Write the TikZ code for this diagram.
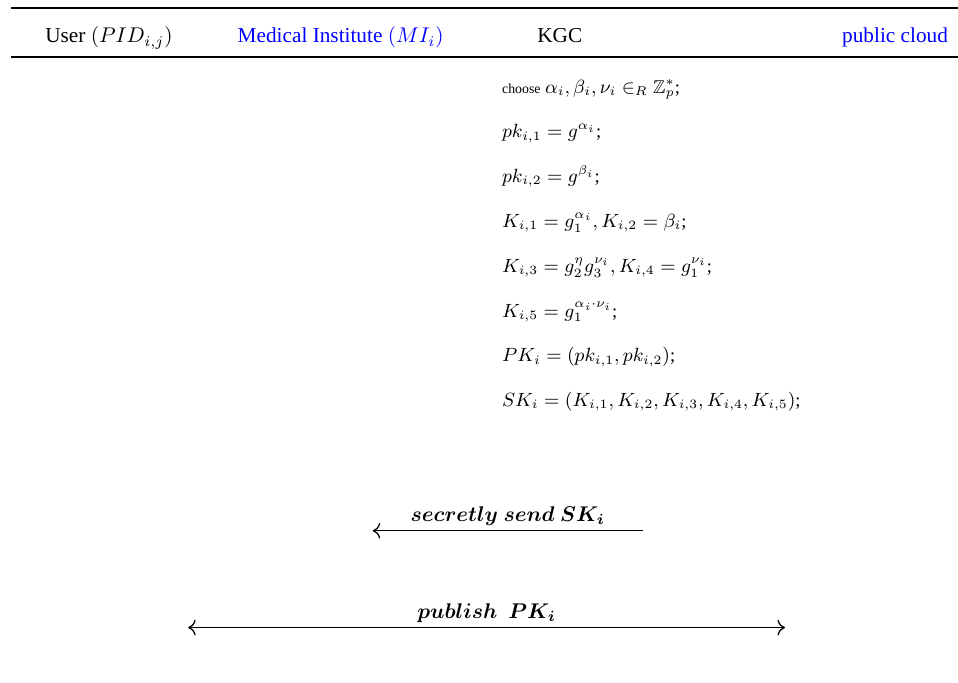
\documentclass[tikz,border=0pt]{standalone}
\usepackage{amsmath,amssymb}
\usepackage[no-math]{fontspec}
\setmainfont{Liberation Serif}
\usepackage{xcolor}
\usepackage{tikz}
\usetikzlibrary{arrows.meta}
\usetikzlibrary{positioning}
\tikzset{
  entidade/.style={anchor=base, inner sep=0pt, font=\normalsize},
  formula/.style={anchor=base west, inner sep=0pt, font=\fontsize{8.7pt}{10pt}\selectfont},
  regua/.style={line width=0.8pt},
  seta/.style={line width=0.6pt},
  ponta/.tip={Computer Modern Rightarrow[scale=1.2]},
  rotulo/.style={above=2pt, inner sep=0pt, font=\fontsize{10.4pt}{13pt}\selectfont},
}

\begin{document}
\begin{tikzpicture}
  \useasboundingbox (0,0) rectangle (15.83,-11.27);
  % cabecalho
  \draw[regua] (0.18,-0.13) -- (15.83,-0.13);
  \draw[regua] (0.18,-0.94) -- (15.83,-0.94);
  \node[entidade] (user) at (1.80,-0.71) {User $(PID_{i,j})$};
  \node[entidade, text=blue] (mi) at (5.63,-0.71) {Medical Institute $(MI_i)$};
  \node[entidade] (kgc) at (9.25,-0.71) {KGC};
  \node[entidade, text=blue] (cloud) at (14.79,-0.71) {public cloud};
  % geracao de chaves no KGC
  \foreach \i/\f in {
      0/{{\fontsize{6.5pt}{8pt}\selectfont choose} $\alpha_i,\beta_i,\nu_i\in_R\mathbb{Z}_p^*$;},
      1/{$pk_{i,1}=g^{\alpha_i}$;},
      2/{$pk_{i,2}=g^{\beta_i}$;},
      3/{$K_{i,1}=g_1^{\alpha_i},K_{i,2}=\beta_i$;},
      4/{$K_{i,3}=g_2^{\eta}g_3^{\nu_i},K_{i,4}=g_1^{\nu_i}$;},
      5/{$K_{i,5}=g_1^{\alpha_i\cdot\nu_i}$;},
      6/{$PK_i=(pk_{i,1},pk_{i,2})$;},
      7/{$SK_i=(K_{i,1},K_{i,2},K_{i,3},K_{i,4},K_{i,5})$;}} {
    \node[formula] (f\i) at (8.29,-1.54-\i*0.74) {\f};
  }
  % mensagens
  \coordinate (envio-ini) at (10.62,-8.77);
  \coordinate (envio-fim) at (6.16,-8.77);
  \draw[seta, -{ponta}] (envio-ini) -- (envio-fim)
    node[rotulo, midway] (envio) {$\boldsymbol{secretly\ send\ SK_i}$};
  \coordinate (pub-ini) at (3.11,-10.37);
  \coordinate (pub-fim) at (12.97,-10.37);
  \draw[seta, {ponta}-{ponta}] (pub-ini) -- (pub-fim)
    node[rotulo, midway] (pub) {$\boldsymbol{publish\ \ PK_i}$};
\end{tikzpicture}
\end{document}
